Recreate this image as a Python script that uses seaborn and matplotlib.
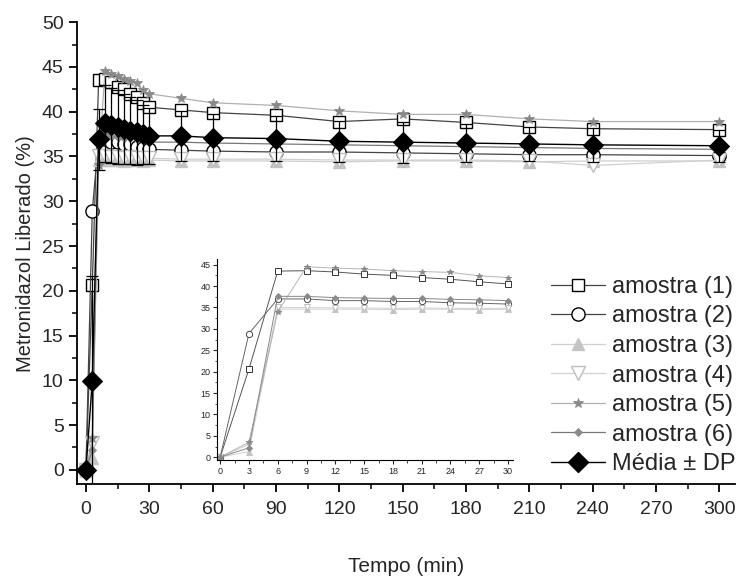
import matplotlib
matplotlib.use("Agg")
import matplotlib.pyplot as plt
import seaborn as sns
import pandas as pd
from matplotlib.lines import Line2D
from matplotlib.ticker import MultipleLocator

# ---- data ----
tempo = [0, 3, 6, 9, 12, 15, 18, 21, 24, 27, 30, 45, 60, 90, 120, 150, 180, 210, 240, 300]
amostra1 = [0, 20.6, 43.5, 43.6, 43.3, 42.8, 42.5, 42.0, 41.6, 41.0, 40.5, 40.2, 39.9, 39.6, 38.9, 39.2, 38.8, 38.3, 38.1, 38.0]
amostra2 = [0, 28.9, 37.0, 37.0, 36.6, 36.6, 36.4, 36.4, 36.1, 36.0, 35.8, 35.7, 35.6, 35.5, 35.5, 35.4, 35.3, 35.2, 35.2, 35.1]
amostra3 = [0, 1.3, 34.6, 34.6, 34.6, 34.6, 34.5, 34.6, 34.6, 34.5, 34.6, 34.5, 34.5, 34.5, 34.4, 34.5, 34.5, 34.4, 34.5, 34.5]
amostra4 = [0, 3.0, 35.0, 35.0, 34.9, 34.9, 34.8, 34.9, 34.8, 34.8, 34.8, 34.7, 34.7, 34.7, 34.6, 34.6, 34.6, 34.5, 34.0, 34.6]
amostra5 = [0, 3.5, 34.0, 44.5, 44.2, 44.0, 43.6, 43.4, 43.2, 42.4, 42.0, 41.5, 41.0, 40.7, 40.1, 39.7, 39.7, 39.2, 38.9, 38.9]
amostra6 = [0, 2.2, 37.6, 37.6, 37.3, 37.2, 37.1, 37.1, 36.9, 36.8, 36.6, 36.6, 36.5, 36.4, 36.3, 36.2, 36.1, 36.0, 35.9, 35.8]
media = [0, 9.9, 36.9, 38.7, 38.5, 38.3, 38.1, 37.9, 37.7, 37.5, 37.3, 37.3, 37.1, 37.0, 36.7, 36.6, 36.5, 36.4, 36.3, 36.2]
dp = [0, 11.8, 3.4, 4.3, 4.2, 4.1, 3.9, 3.7, 3.6, 3.3, 3.1, 2.8, 2.6, 2.5, 2.3, 2.3, 2.1, 1.9, 1.9, 1.8]
legend_labels = ["amostra (1)", "amostra (2)", "amostra (3)", "amostra (4)",
                 "amostra (5)", "amostra (6)", "Média ± DP"]

sns.set_theme(style="ticks")
plt.rcParams["font.family"] = ["Liberation Sans", "DejaVu Sans"]

fig = plt.figure(figsize=(7.39, 5.84), dpi=100)
ax = fig.add_axes([0.104, 0.171, 0.891, 0.791])

series = [amostra1, amostra2, amostra3, amostra4, amostra5, amostra6]
styles = [
    dict(marker="s", ms=8.5, mfc="white", mec="black", color="#444444", lw=0.9, mew=1.0),
    dict(marker="o", ms=9.5, mfc="white", mec="black", color="#444444", lw=0.9, mew=1.0),
    dict(marker="^", ms=8.5, mfc="#c4c4c4", mec="#c4c4c4", color="#cfcfcf", lw=0.9, mew=1.0),
    dict(marker="v", ms=9.5, mfc="white", mec="#bdbdbd", color="#d0d0d0", lw=0.9, mew=1.0),
    dict(marker="*", ms=7, mfc="#8a8a8a", mec="#8a8a8a", color="#b0b0b0", lw=0.9, mew=0.6),
    dict(marker="D", ms=4.5, mfc="#8a8a8a", mec="#8a8a8a", color="#777777", lw=0.9, mew=0.6),
]

for vals, st in zip(series, styles):
    df = pd.DataFrame({"t": tempo, "v": vals})
    sns.lineplot(data=df, x="t", y="v", ax=ax, color=st["color"], lw=st["lw"],
                 marker=st["marker"], markersize=st["ms"], markerfacecolor=st["mfc"],
                 markeredgecolor=st["mec"], markeredgewidth=st["mew"], zorder=3)

ax.errorbar(tempo, media, yerr=dp, fmt="none", ecolor="black", elinewidth=0.9,
            capsize=4, capthick=0.9, zorder=4)
dfm = pd.DataFrame({"t": tempo, "v": media})
sns.lineplot(data=dfm, x="t", y="v", ax=ax, color="black", lw=1.0, marker="D",
             markersize=10, markerfacecolor="black", markeredgecolor="black", zorder=5)

ax.set_xlim(-4.3, 307.5)
ax.set_ylim(-1.6, 50)
ax.set_xticks(range(0, 301, 30))
ax.set_yticks(range(0, 51, 5))
ax.xaxis.set_minor_locator(MultipleLocator(15))
ax.yaxis.set_minor_locator(MultipleLocator(2.5))
ax.tick_params(axis="both", which="major", labelsize=14, length=6, width=1.3, color="black")
ax.tick_params(axis="x", which="major", pad=6)
ax.tick_params(axis="both", which="minor", length=3.5, width=1.1, color="black")
for s in ["top", "right"]:
    ax.spines[s].set_visible(False)
for s in ["left", "bottom"]:
    ax.spines[s].set_color("black")
    ax.spines[s].set_linewidth(1.3)
ax.set_xlabel("Tempo (min)", fontsize=15, labelpad=28)
ax.set_ylabel("Metronidazol Liberado (%)", fontsize=14.5, labelpad=5)

# legend
handles = []
for st in styles:
    handles.append(Line2D([], [], color=st["color"], lw=st["lw"], marker=st["marker"],
                          markersize=st["ms"], markerfacecolor=st["mfc"],
                          markeredgecolor=st["mec"], markeredgewidth=st["mew"]))
handles.append(Line2D([], [], color="black", lw=1.0, marker="D", markersize=10,
                      markerfacecolor="black", markeredgecolor="black"))
fig.legend(handles, legend_labels, loc="lower right", bbox_to_anchor=(1.018, 0.158),
           frameon=False, fontsize=17, handlelength=2.3, handletextpad=0.3,
           labelspacing=0.32, borderpad=0.2)

# inset
axi = fig.add_axes([0.294, 0.212, 0.40, 0.345])
inset_styles = [
    dict(marker="s", ms=4, mfc="white", mec="#333333", color="#555555"),
    dict(marker="o", ms=4.5, mfc="white", mec="#444444", color="#666666"),
    dict(marker="^", ms=4, mfc="#c4c4c4", mec="#c4c4c4", color="#cfcfcf"),
    dict(marker="v", ms=4.5, mfc="white", mec="#bdbdbd", color="#d0d0d0"),
    dict(marker="*", ms=4, mfc="#8a8a8a", mec="#8a8a8a", color="#b5b5b5"),
    dict(marker="D", ms=3, mfc="#8a8a8a", mec="#8a8a8a", color="#888888"),
]
n_early = 11
for vals, st in zip(series, inset_styles):
    df = pd.DataFrame({"t": tempo[:n_early], "v": vals[:n_early]})
    sns.lineplot(data=df, x="t", y="v", ax=axi, color=st["color"], lw=0.7,
                 marker=st["marker"], markersize=st["ms"], markerfacecolor=st["mfc"],
                 markeredgecolor=st["mec"], markeredgewidth=0.7)
axi.set_xlim(-0.3, 30.5)
axi.set_ylim(-0.7, 46.4)
axi.set_xticks(range(0, 31, 3))
axi.set_yticks(range(0, 46, 5))
axi.xaxis.set_minor_locator(MultipleLocator(1.5))
axi.yaxis.set_minor_locator(MultipleLocator(2.5))
axi.tick_params(axis="both", which="major", labelsize=6.5, length=3, width=0.8, pad=2)
axi.tick_params(axis="both", which="minor", length=1.8, width=0.6)
for s in ["top", "right"]:
    axi.spines[s].set_visible(False)
for s in ["left", "bottom"]:
    axi.spines[s].set_color("black")
    axi.spines[s].set_linewidth(0.8)
axi.set_xlabel("")
axi.set_ylabel("")
axi.patch.set_alpha(0)

fig.savefig("out.png", dpi=100)
